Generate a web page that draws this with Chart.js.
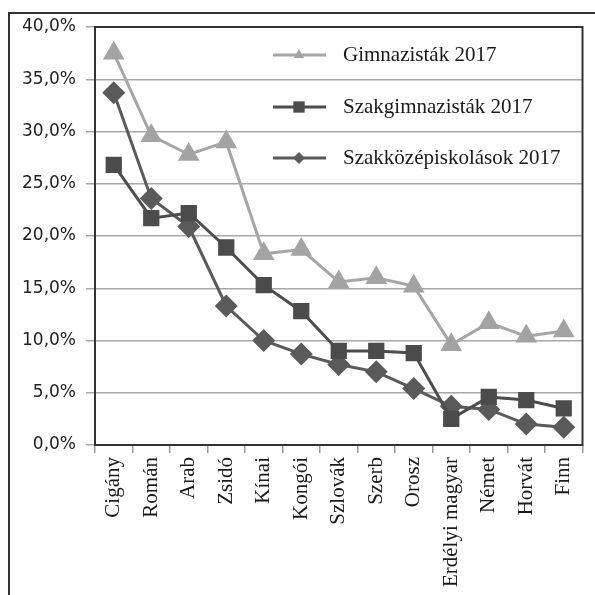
<!DOCTYPE html>
<html>
<head>
<meta charset="utf-8">
<script src="https://cdn.jsdelivr.net/npm/chart.js@4/dist/chart.umd.min.js"></script>
<style>
  html, body { margin: 0; padding: 0; background: #fff; }
</style>
</head>
<body>
<canvas id="chart" width="595" height="595"></canvas>
<script>
// categories (x axis)
const categories = ['Cigány', 'Román', 'Arab', 'Zsidó', 'Kínai', 'Kongói', 'Szlovák',
  'Szerb', 'Orosz', 'Erdélyi magyar', 'Német', 'Horvát', 'Finn'];

// series values, percent
const gimnazistak = [37.5, 29.6, 27.8, 29.0, 18.3, 18.7, 15.6, 16.0, 15.2, 9.6, 11.7, 10.4, 10.9];
const szakgimnazistak = [26.8, 21.7, 22.2, 18.9, 15.3, 12.8, 9.0, 9.0, 8.8, 2.5, 4.6, 4.3, 3.5];
const szakkozep = [33.7, 23.6, 20.9, 13.3, 10.0, 8.7, 7.7, 7.0, 5.4, 3.7, 3.4, 2.0, 1.7];

const seriesNames = ['Gimnazisták 2017', 'Szakgimnazisták 2017', 'Szakközépiskolások 2017'];

// y ticks
const yTicks = [0, 5, 10, 15, 20, 25, 30, 35, 40];

const fmtPct = v => v.toFixed(1).replace('.', ',') + '%';

// draws a small marker, used by the legend
function marker(ctx, style, x, y, r) {
  ctx.beginPath();
  if (style === 'triangle') {
    ctx.moveTo(x, y - r);
    ctx.lineTo(x + r * 0.866, y + r * 0.5);
    ctx.lineTo(x - r * 0.866, y + r * 0.5);
  } else if (style === 'rect') {
    const s = r * Math.SQRT1_2;
    ctx.rect(x - s, y - s, 2 * s, 2 * s);
  } else {
    ctx.moveTo(x, y - r);
    ctx.lineTo(x + r, y);
    ctx.lineTo(x, y + r);
    ctx.lineTo(x - r, y);
  }
  ctx.closePath();
  ctx.fill();
}

// outer frame + box round the plot
const framePlugin = {
  id: 'frame',
  beforeDraw(chart) {
    const ctx = chart.ctx;
    ctx.save();
    ctx.fillStyle = '#fff';
    ctx.fillRect(0, 0, chart.width, chart.height);
    ctx.strokeStyle = '#333';
    ctx.lineWidth = 2;
    ctx.beginPath();
    ctx.moveTo(9, chart.height);
    ctx.lineTo(9, 13);
    ctx.lineTo(chart.width, 13);
    ctx.stroke();
    ctx.restore();
  },
  beforeDatasetsDraw(chart) {
    const a = chart.chartArea;
    const ctx = chart.ctx;
    ctx.save();
    ctx.strokeStyle = '#333';
    ctx.lineWidth = 2;
    ctx.strokeRect(a.left, a.top, a.right - a.left, a.bottom - a.top);
    ctx.restore();
  }
};

// legend inside the plot, line + marker + label
const legendPlugin = {
  id: 'innerLegend',
  afterDatasetsDraw(chart) {
    const ctx = chart.ctx;
    const rows = [55, 107, 158];
    ctx.save();
    chart.data.datasets.forEach((ds, i) => {
      const y = rows[i];
      ctx.strokeStyle = ds.borderColor;
      ctx.lineWidth = 3;
      ctx.beginPath();
      ctx.moveTo(273, y);
      ctx.lineTo(326, y);
      ctx.stroke();
      ctx.fillStyle = ds.pointBackgroundColor;
      marker(ctx, ds.pointStyle, 299, y, ds.pointStyle === 'rect' ? 8 : 6);
      ctx.fillStyle = '#1a1a1a';
      ctx.font = '21px "Liberation Serif"';
      ctx.textBaseline = 'middle';
      ctx.fillText(ds.label, 343, y);
    });
    ctx.restore();
  }
};

const ctx = document.getElementById('chart').getContext('2d');
new Chart(ctx, {
  type: 'line',
  data: {
    labels: categories,
    datasets: [
      {
        label: seriesNames[0],
        data: gimnazistak,
        borderColor: '#a6a6a6',
        pointBackgroundColor: '#a3a3a3',
        pointBorderWidth: 0,
        pointStyle: 'triangle',
        pointRadius: 12.5,
        borderWidth: 3
      },
      {
        label: seriesNames[1],
        data: szakgimnazistak,
        borderColor: '#4d4d4d',
        pointBackgroundColor: '#4b4b4b',
        pointBorderWidth: 0,
        pointStyle: 'rect',
        pointRadius: 11.5,
        borderWidth: 3
      },
      {
        label: seriesNames[2],
        data: szakkozep,
        borderColor: '#5a5a5a',
        pointBackgroundColor: '#5a5a5a',
        pointBorderWidth: 0,
        pointStyle: 'rectRot',
        pointRadius: 11.5,
        borderWidth: 3
      }
    ]
  },
  options: {
    responsive: false,
    animation: false,
    layout: { padding: { top: 27, right: 7, left: 0, bottom: 0 } },
    plugins: {
      legend: { display: false },
      tooltip: { enabled: false }
    },
    scales: {
      x: {
        offset: true,
        grid: { offset: true, drawOnChartArea: false, color: '#999', tickLength: 8, lineWidth: 1.5 },
        border: { display: false },
        ticks: {
          autoSkip: false,
          minRotation: 90,
          maxRotation: 90,
          padding: 4,
          color: '#1a1a1a',
          font: { family: '"Liberation Serif"', size: 21 }
        },
        afterFit(scale) { scale.height = 150; }
      },
      y: {
        min: 0,
        max: 40,
        afterBuildTicks(scale) { scale.ticks = yTicks.map(v => ({ value: v })); },
        grid: { color: '#a8a8a8', lineWidth: 1.5, tickLength: 9 },
        border: { display: false },
        ticks: {
          padding: 10,
          color: '#222',
          font: { family: '"DejaVu Sans"', size: 17 },
          callback: v => fmtPct(v)
        },
        afterFit(scale) { scale.width = 95; }
      }
    }
  },
  plugins: [framePlugin, legendPlugin]
});
</script>
</body>
</html>
